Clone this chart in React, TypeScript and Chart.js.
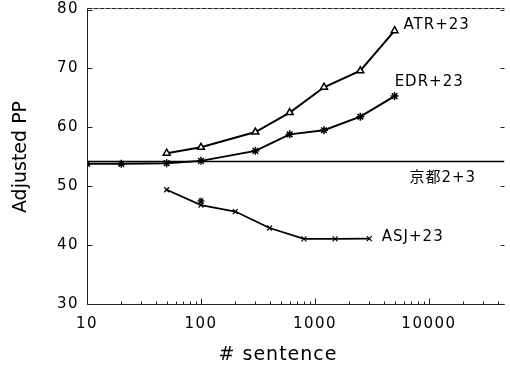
import React, { useEffect, useRef } from "react";
import { Chart, registerables } from "chart.js";

Chart.register(...registerables);

// ---- data ----
const xTickLabels = [10, 100, 1000, 10000];
const yTickValues = [30, 40, 50, 60, 70, 80];

const atrX = [50, 100, 300, 600, 1200, 2500, 5000];
const atrY = [55.6, 56.6, 59.2, 62.5, 66.8, 69.6, 76.4];

const edrX = [10, 20, 50, 100, 300, 600, 1200, 2500, 5000];
const edrY = [53.8, 53.8, 53.9, 54.3, 56.0, 58.8, 59.5, 61.8, 65.3];

const asjX = [50, 100, 200, 400, 800, 1500, 3000];
const asjY = [49.4, 46.8, 45.7, 42.9, 41.05, 41.05, 41.1];

const asjExtraX = [100];
const asjExtraY = [47.5];

const baselineX = [10, 46000];
const baselineY = [54.2, 54.2];

const seriesNames = ["ATR+23", "EDR+23", "京都2+3", "ASJ+23"];
const xTitle = "# sentence";
const yTitle = "Adjusted PP";

const FONT = "'DejaVu Sans', 'Noto Sans CJK JP', sans-serif";
const INK = "#000";
const TICK_LS = "1.5px";

function pts(xs: number[], ys: number[]) {
  return xs.map((x, i) => ({ x, y: ys[i] }));
}

const decorPlugin = {
  id: "decor",
  beforeLayout(chart: any) {
    chart.ctx.letterSpacing = TICK_LS;
  },
  beforeDraw(chart: any) {
    chart.ctx.letterSpacing = TICK_LS;
  },
  afterDraw(chart: any) {
    const ctx = chart.ctx as CanvasRenderingContext2D & { letterSpacing: string };
    const { left, right, top, bottom } = chart.chartArea;
    const xs = chart.scales.x;
    const ys = chart.scales.y;
    ctx.save();
    ctx.strokeStyle = "#222";
    ctx.lineWidth = 1;
    const L = Math.round(left) + 0.5;
    const B = Math.round(bottom) + 0.5;
    const T = Math.round(top) - 1.5;
    ctx.beginPath();
    ctx.moveTo(L, T);
    ctx.lineTo(L, B);
    ctx.lineTo(right, B);
    ctx.stroke();
    ctx.save();
    ctx.setLineDash([5, 1]);
    ctx.beginPath();
    ctx.moveTo(L, T);
    ctx.lineTo(right, T);
    ctx.stroke();
    ctx.restore();

    // y ticks (inward, both sides)
    ctx.beginPath();
    for (const t of ys.ticks) {
      const py = Math.round(ys.getPixelForValue(t.value)) + 0.5;
      ctx.moveTo(L, py);
      ctx.lineTo(L + 5, py);
      ctx.moveTo(right - 4, py);
      ctx.lineTo(right, py);
    }
    // x ticks (inward)
    for (const t of xs.ticks) {
      const v = t.value;
      const px = Math.round(xs.getPixelForValue(v)) + 0.5;
      if (px > right - 1) continue;
      const sig = v / Math.pow(10, Math.floor(Math.log10(v) + 1e-9));
      const r = Math.round(sig);
      if (Math.abs(sig - r) > 1e-6) continue;
      const len = r === 1 ? 6 : 3;
      ctx.moveTo(px, B);
      ctx.lineTo(px, B - len);
    }
    ctx.stroke();

    // series labels anchored in data space
    ctx.fillStyle = INK;
    ctx.letterSpacing = "1px";
    ctx.font = `15px ${FONT}`;
    ctx.textAlign = "left";
    ctx.textBaseline = "middle";
    const anchors: [number, number][] = [
      [5980, 77.4],
      [5000, 67.7],
      [6750, 51.3],
      [3860, 41.4],
    ];
    seriesNames.forEach((name, i) => {
      const [ax, ay] = anchors[i];
      ctx.fillText(name, xs.getPixelForValue(ax), ys.getPixelForValue(ay));
    });

    // axis titles
    ctx.letterSpacing = "1px";
    ctx.font = `19px ${FONT}`;
    ctx.textAlign = "center";
    ctx.fillText(xTitle, 278, 355);

    ctx.letterSpacing = "0px";
    ctx.translate(21, 157);
    ctx.rotate(-Math.PI / 2);
    ctx.fillText(yTitle, 0, 0);
    ctx.restore();
  },
};

export default function App() {
  const ref = useRef<HTMLCanvasElement | null>(null);
  useEffect(() => {
    if (!ref.current) return;
    const lineCommon = {
      borderColor: INK,
      borderWidth: 2,
      pointBorderColor: INK,
      pointBorderWidth: 1.5,
      tension: 0,
    };
    const chart = new Chart(ref.current, {
      type: "line",
      data: {
        datasets: [
          {
            label: "baseline",
            data: pts(baselineX, baselineY),
            borderColor: INK,
            borderWidth: 1.6,
            pointRadius: 0,
          },
          {
            label: seriesNames[0],
            data: pts(atrX, atrY),
            ...lineCommon,
            pointStyle: "triangle",
            pointRadius: 4,
            pointBackgroundColor: "#fff",
          },
          {
            label: seriesNames[1],
            data: pts(edrX, edrY),
            ...lineCommon,
            pointStyle: "star",
            pointRadius: 4,
            pointBackgroundColor: INK,
          },
          {
            label: seriesNames[3],
            data: pts(asjX, asjY),
            ...lineCommon,
            borderWidth: 1.8,
            pointStyle: "crossRot",
            pointRadius: 3.5,
            pointBorderWidth: 1.2,
          },
          {
            label: "asj-extra",
            data: pts(asjExtraX, asjExtraY),
            showLine: false,
            pointStyle: "star",
            pointRadius: 3.5,
            pointBorderColor: INK,
            pointBorderWidth: 1.2,
          },
        ],
      } as any,
      options: {
        animation: false,
        responsive: true,
        maintainAspectRatio: false,
        layout: { padding: { left: 0, right: 0, top: 9.5, bottom: 0 } },
        plugins: {
          legend: { display: false },
          tooltip: { enabled: false },
        },
        scales: {
          x: {
            type: "logarithmic",
            min: 10,
            max: 46000,
            grid: { display: false, drawTicks: false },
            border: { display: false },
            afterFit: (s: any) => {
              s.height = 63;
              s.paddingLeft = 0;
              s.paddingRight = 0;
            },
            ticks: {
              autoSkip: false,
              maxRotation: 0,
              padding: 11,
              color: INK,
              font: { family: FONT, size: 15 },
              callback: (v: any) => (xTickLabels.includes(Number(v)) ? String(v) : ""),
            },
          },
          y: {
            min: 30,
            max: 80,
            grid: { display: false, drawTicks: false },
            border: { display: false },
            afterFit: (s: any) => {
              s.width = 87;
              s.paddingTop = 0;
              s.paddingBottom = 0;
            },
            afterBuildTicks: (s: any) => {
              s.ticks = yTickValues.map((v) => ({ value: v }));
            },
            ticks: {
              padding: 8,
              color: INK,
              font: { family: FONT, size: 15 },
            },
          },
        },
      } as any,
      plugins: [decorPlugin],
    });
    return () => chart.destroy();
  }, []);
  return (
    <div style={{ position: "absolute", left: 0, top: 0, width: 510, height: 367, background: "#fff" }}>
      <canvas ref={ref} />
    </div>
  );
}
